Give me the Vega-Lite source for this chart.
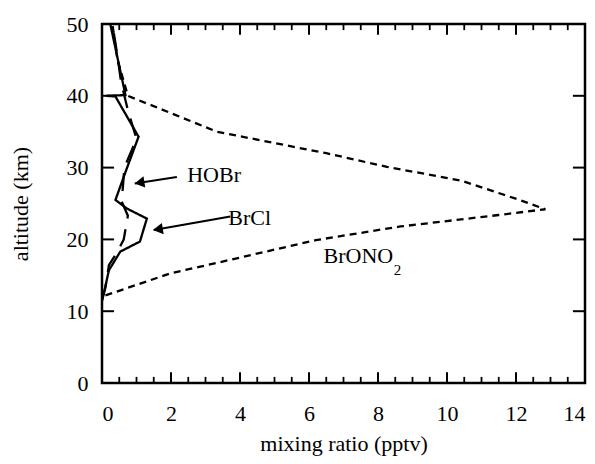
{
  "$schema": "https://vega.github.io/schema/vega-lite/v6.json",
  "width": 483,
  "height": 359,
  "autosize": {"type": "none"},
  "padding": {"left": 102, "top": 24, "right": 10, "bottom": 81},
  "background": "white",
  "config": {
    "view": {"stroke": "black", "strokeWidth": 2.5},
    "font": "Liberation Serif",
    "axis": {
      "domain": false,
      "grid": false,
      "ticks": false,
      "labelColor": "black",
      "labelFont": "Liberation Serif",
      "labelFontSize": 22,
      "titleFont": "Liberation Serif",
      "titleFontSize": 22,
      "titleFontWeight": "normal",
      "titleColor": "black"
    }
  },
  "datasets": {
    "profiles": [
      {"species": "BrONO2", "ord": 1, "x": 0.1, "alt": 12.2},
      {"species": "BrONO2", "ord": 2, "x": 2.0, "alt": 15.3},
      {"species": "BrONO2", "ord": 3, "x": 2.85, "alt": 16.2},
      {"species": "BrONO2", "ord": 4, "x": 6.2, "alt": 19.9},
      {"species": "BrONO2", "ord": 5, "x": 8.65, "alt": 21.8},
      {"species": "BrONO2", "ord": 6, "x": 11.5, "alt": 23.4},
      {"species": "BrONO2", "ord": 7, "x": 12.85, "alt": 24.2},
      {"species": "BrONO2", "ord": 8, "x": 12.1, "alt": 25.5},
      {"species": "BrONO2", "ord": 9, "x": 10.4, "alt": 28.2},
      {"species": "BrONO2", "ord": 10, "x": 8.26, "alt": 30.1},
      {"species": "BrONO2", "ord": 11, "x": 6.5, "alt": 32.0},
      {"species": "BrONO2", "ord": 12, "x": 3.33, "alt": 35.0},
      {"species": "BrONO2", "ord": 13, "x": 0.75, "alt": 40.0},
      {"species": "BrONO2", "ord": 14, "x": 0.45, "alt": 45.0},
      {"species": "BrONO2", "ord": 15, "x": 0.3, "alt": 50.0},
      {"species": "HOBr", "ord": 1, "x": 0.0, "alt": 11.5},
      {"species": "HOBr", "ord": 2, "x": 0.1, "alt": 13.3},
      {"species": "HOBr", "ord": 3, "x": 0.2, "alt": 16.4},
      {"species": "HOBr", "ord": 4, "x": 0.45, "alt": 18.3},
      {"species": "HOBr", "ord": 5, "x": 0.63, "alt": 20.0},
      {"species": "HOBr", "ord": 6, "x": 0.75, "alt": 23.3},
      {"species": "HOBr", "ord": 7, "x": 0.55, "alt": 25.5},
      {"species": "HOBr", "ord": 8, "x": 0.6, "alt": 27.0},
      {"species": "HOBr", "ord": 9, "x": 0.65, "alt": 30.0},
      {"species": "HOBr", "ord": 10, "x": 1.0, "alt": 34.0},
      {"species": "HOBr", "ord": 11, "x": 0.75, "alt": 38.0},
      {"species": "HOBr", "ord": 12, "x": 0.55, "alt": 42.0},
      {"species": "HOBr", "ord": 13, "x": 0.45, "alt": 45.5},
      {"species": "HOBr", "ord": 14, "x": 0.3, "alt": 50.0},
      {"species": "BrCl", "ord": 1, "x": 0.0, "alt": 11.5},
      {"species": "BrCl", "ord": 2, "x": 0.1, "alt": 13.5},
      {"species": "BrCl", "ord": 3, "x": 0.2, "alt": 15.7},
      {"species": "BrCl", "ord": 4, "x": 0.53, "alt": 18.3},
      {"species": "BrCl", "ord": 5, "x": 1.1, "alt": 19.7},
      {"species": "BrCl", "ord": 6, "x": 1.3, "alt": 22.9},
      {"species": "BrCl", "ord": 7, "x": 0.72, "alt": 24.3},
      {"species": "BrCl", "ord": 8, "x": 0.39, "alt": 25.5},
      {"species": "BrCl", "ord": 9, "x": 0.72, "alt": 29.9},
      {"species": "BrCl", "ord": 10, "x": 1.06, "alt": 34.3},
      {"species": "BrCl", "ord": 11, "x": 0.39, "alt": 39.9},
      {"species": "BrCl", "ord": 12, "x": 0.12, "alt": 40.0},
      {"species": "BrCl", "ord": 13, "x": 0.68, "alt": 40.1},
      {"species": "BrCl", "ord": 14, "x": 0.24, "alt": 50.0}
    ],
    "labels": [
      {"label": "HOBr", "x": 2.47, "alt": 28.0},
      {"label": "BrCl", "x": 3.66, "alt": 22.0},
      {"label": "BrONO", "x": 6.42, "alt": 16.7}
    ],
    "subscripts": [
      {"label": "2", "x": 8.46, "alt": 15.0}
    ],
    "arrows": [
      {"label": "HOBr", "x": 2.17, "alt": 28.7, "x2": 0.95, "alt2": 27.8},
      {"label": "BrCl", "x": 3.72, "alt": 23.2, "x2": 1.5, "alt2": 21.3}
    ],
    "heads": [
      {"label": "HOBr", "x": 1.087, "alt": 27.9},
      {"label": "BrCl", "x": 1.62, "alt": 21.4}
    ],
    "xmajor": [{"v": 2}, {"v": 4}, {"v": 6}, {"v": 8}, {"v": 10}, {"v": 12}],
    "xminor": [{"v": 0.5}, {"v": 1}, {"v": 1.5}, {"v": 2.5}, {"v": 3}, {"v": 3.5}, {"v": 4.5}, {"v": 5}, {"v": 5.5}, {"v": 6.5}, {"v": 7}, {"v": 7.5}, {"v": 8.5}, {"v": 9}, {"v": 9.5}, {"v": 10.5}, {"v": 11}, {"v": 11.5}, {"v": 12.5}, {"v": 13}, {"v": 13.5}],
    "yticks": [{"v": 10}, {"v": 20}, {"v": 30}, {"v": 40}]
  },
  "layer": [
    {
      "data": {"name": "profiles"},
      "mark": {"type": "line", "color": "black", "strokeWidth": 2.3, "strokeCap": "butt", "strokeJoin": "miter"},
      "encoding": {
        "x": {"field": "x", "type": "quantitative", "scale": {"domain": [0, 14], "nice": false, "zero": false},
          "axis": {"orient": "bottom", "values": [0, 2, 4, 6, 8, 10, 12, 14], "labelPadding": 20, "title": "mixing ratio (pptv)", "titlePadding": 9}},
        "y": {"field": "alt", "type": "quantitative", "scale": {"domain": [0, 50], "nice": false, "zero": false},
          "axis": {"orient": "left", "values": [0, 10, 20, 30, 40, 50], "labelPadding": 14, "title": "altitude (km)", "titlePadding": 34}},
        "detail": {"field": "species"},
        "order": {"field": "ord", "type": "quantitative"},
        "strokeDash": {"field": "species", "type": "nominal", "legend": null,
          "scale": {"domain": ["BrCl", "HOBr", "BrONO2"], "range": [[1, 0], [18, 11], [7, 5]]}}
      }
    },
    {
      "data": {"name": "xmajor"},
      "mark": {"type": "rule", "color": "black", "strokeWidth": 2},
      "encoding": {
        "x": {"field": "v", "type": "quantitative"},
        "y": {"datum": 0},
        "y2": {"datum": 1.5}
      }
    },
    {
      "data": {"name": "xmajor"},
      "mark": {"type": "rule", "color": "black", "strokeWidth": 2},
      "encoding": {
        "x": {"field": "v", "type": "quantitative"},
        "y": {"datum": 50},
        "y2": {"datum": 48.5}
      }
    },
    {
      "data": {"name": "xminor"},
      "mark": {"type": "rule", "color": "black", "strokeWidth": 1.8},
      "encoding": {
        "x": {"field": "v", "type": "quantitative"},
        "y": {"datum": 0},
        "y2": {"datum": 0.85}
      }
    },
    {
      "data": {"name": "xminor"},
      "mark": {"type": "rule", "color": "black", "strokeWidth": 1.8},
      "encoding": {
        "x": {"field": "v", "type": "quantitative"},
        "y": {"datum": 50},
        "y2": {"datum": 49.15}
      }
    },
    {
      "data": {"name": "yticks"},
      "mark": {"type": "rule", "color": "black", "strokeWidth": 2},
      "encoding": {
        "y": {"field": "v", "type": "quantitative"},
        "x": {"datum": 0},
        "x2": {"datum": 0.35}
      }
    },
    {
      "data": {"name": "yticks"},
      "mark": {"type": "rule", "color": "black", "strokeWidth": 2},
      "encoding": {
        "y": {"field": "v", "type": "quantitative"},
        "x": {"datum": 14},
        "x2": {"datum": 13.65}
      }
    },
    {
      "data": {"name": "labels"},
      "mark": {"type": "text", "align": "left", "baseline": "alphabetic", "font": "Liberation Serif", "fontSize": 22, "color": "black"},
      "encoding": {
        "x": {"field": "x", "type": "quantitative"},
        "y": {"field": "alt", "type": "quantitative"},
        "text": {"field": "label"}
      }
    },
    {
      "data": {"name": "subscripts"},
      "mark": {"type": "text", "align": "left", "baseline": "alphabetic", "font": "Liberation Serif", "fontSize": 15, "color": "black"},
      "encoding": {
        "x": {"field": "x", "type": "quantitative"},
        "y": {"field": "alt", "type": "quantitative"},
        "text": {"field": "label"}
      }
    },
    {
      "data": {"name": "arrows"},
      "mark": {"type": "rule", "color": "black", "strokeWidth": 2},
      "encoding": {
        "x": {"field": "x", "type": "quantitative"},
        "y": {"field": "alt", "type": "quantitative"},
        "x2": {"field": "x2"},
        "y2": {"field": "alt2"}
      }
    },
    {
      "data": {"name": "heads"},
      "mark": {"type": "point", "shape": "triangle-left", "filled": true, "color": "black", "opacity": 1, "size": 130, "angle": -9},
      "encoding": {
        "x": {"field": "x", "type": "quantitative"},
        "y": {"field": "alt", "type": "quantitative"}
      }
    }
  ]
}
